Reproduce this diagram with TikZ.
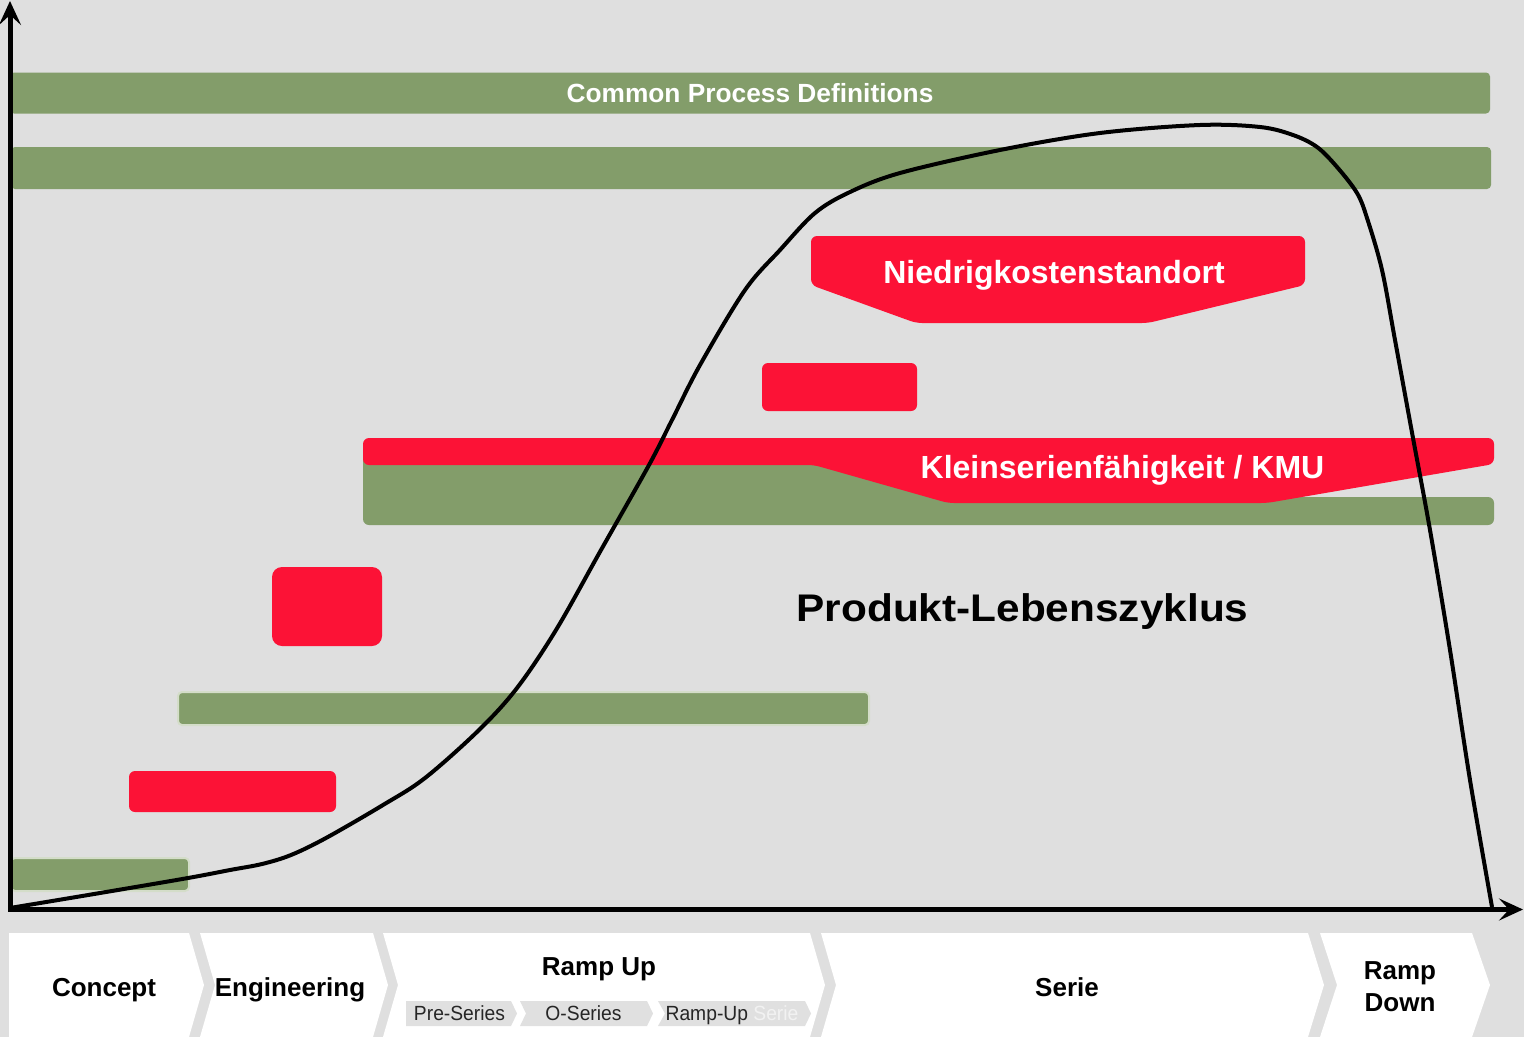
\documentclass[tikz,border=0pt]{standalone}
\usepackage{fontspec}
\setmainfont{Liberation Sans}
\usetikzlibrary{arrows.meta}

\definecolor{bgGray}{RGB}{223,223,223}
\definecolor{barGreen}{RGB}{131,157,106}
\definecolor{haloGreen}{RGB}{212,221,201}
\definecolor{barRed}{RGB}{252,18,54}
\definecolor{subGray}{RGB}{224,224,224}
\definecolor{faintGray}{RGB}{242,242,242}

\tikzset{
  greenbar/.style={fill=barGreen, rounded corners=4pt, inner sep=0pt},
  halobar/.style={greenbar, draw=haloGreen, line width=2pt},
  redbar/.style={fill=barRed, rounded corners=6pt, inner sep=0pt},
  whitelabel/.style={text=white, font=\bfseries\fontsize{32}{38}\selectfont, anchor=base},
  phase/.style={font=\bfseries\fontsize{26}{32}\selectfont, anchor=base, align=center},
  subphase/.style={font=\fontsize{20.5}{24}\selectfont, anchor=base, text=black!85},
  chevron/.style={fill=white},
  subchevron/.style={fill=subGray},
}

\begin{document}
\begin{tikzpicture}[x=1pt, y=-1pt]
    \useasboundingbox (0,0) rectangle (1524,1037);
    \fill[bgGray] (0,0) rectangle (1524,1037);
    %% Draw the phases
    \fill[chevron] (9,933) -- (189,933) -- (204,985) -- (189,1037) -- (9,1037) -- cycle;
    \fill[chevron] (200,933) -- (373,933) -- (388,985) -- (373,1037) -- (200,1037) -- (215,985) -- cycle;
    \fill[chevron] (383,933) -- (810,933) -- (825,985) -- (810,1037) -- (383,1037) -- (398,985) -- cycle;
    \fill[chevron] (821,933) -- (1308,933) -- (1324,985) -- (1308,1037) -- (821,1037) -- (836,985) -- cycle;
    \fill[chevron] (1320,933) -- (1472,933) -- (1490,985) -- (1472,1037) -- (1320,1037) -- (1337,985) -- cycle;
    \fill[subchevron] (406,1001) -- (511,1001) -- (517,1013.5) -- (511,1026) -- (406,1026) -- cycle;
    \fill[subchevron] (520,1001) -- (647,1001) -- (653,1013.5) -- (647,1026) -- (520,1026) -- (526,1013.5) -- cycle;
    \fill[subchevron] (658,1001) -- (805,1001) -- (811,1013.5) -- (805,1026) -- (658,1026) -- (665,1013.5) -- cycle;
    \node[phase] (concept) at (104,996) {Concept};
    \node[phase] (engineering) at (290,996) {Engineering};
    \node[phase] (rampup) at (599,975) {Ramp Up};
    \node[phase] (serie) at (1067,996) {Serie};
    \node[phase, anchor=center] (rampdown) at (1400,987) {Ramp\\Down};
    \node[subphase] (preseries) at (459.5,1020.5) {\scalebox{0.94}[1]{Pre-Series}};
    \node[subphase] (oseries) at (583.5,1020.5) {\scalebox{0.94}[1]{O-Series}};
    \node[subphase] (rampupserie) at (732,1020.5) {\scalebox{0.94}[1]{Ramp-Up \textcolor{faintGray}{Serie}}};
    %% Draw the bars
    \node[greenbar, minimum width=1480pt, minimum height=41pt, text=white,
      font=\bfseries\fontsize{26.3}{31}\selectfont] (cpd) at (750,93)
      {Common Process Definitions};
    \node[greenbar, minimum width=1480pt, minimum height=42pt] (topbar) at (751,168) {};
    \node[redbar, minimum width=155pt, minimum height=48pt] (midred) at (839.5,387) {};
    \node[redbar, rounded corners=10pt, minimum width=110pt, minimum height=79pt] (redsquare) at (327,606.5) {};
    \node[halobar, minimum width=691pt, minimum height=33pt] (midgreen) at (523.5,708.5) {};
    \node[redbar, minimum width=207pt, minimum height=41pt] (lowred) at (232.5,791.5) {};
    \node[halobar, minimum width=178pt, minimum height=33pt] (lowgreen) at (100,874.5) {};
    %% Draw the shapes
    \fill[barGreen, rounded corners=6pt] (600,450) -- (814,450) -- (960,497) -- (1494,497)
      -- (1494,525) -- (363,525) -- (363,450) -- cycle;
    \fill[barRed, rounded corners=6pt] (900,438) -- (1494,438) -- (1494,464) -- (1267,503)
      -- (948,503) -- (814,465) -- (363,465) -- (363,438) -- cycle;
    \fill[barRed, rounded corners=6pt] (1000,236) -- (1305,236) -- (1305,285) -- (1148,323)
      -- (916,323) -- (811,285) -- (811,236) -- cycle;
    \node[whitelabel] (niedrig) at (1054,283) {Niedrigkostenstandort};
    \node[whitelabel] (kmu) at (1122.5,478) {Kleinserienfähigkeit / KMU};
    \node[font=\bfseries\fontsize{38.5}{44}\selectfont, anchor=base] (plc) at (1022.5,621)
      {\scalebox{1.1}[1]{Produkt-Lebenszyklus}};
    %% Draw the curve
    \draw[line width=4pt, line join=round] plot[smooth, tension=0.55] coordinates {
      (10,908) (100,893) (188,878) (230,870) (262,864) (291,855) (326,838) (383,805)
      (425,778) (479,730) (517,688) (556,630) (601,550) (649,465) (672,420) (700,365)
      (745,290) (780,250) (815,213) (850,192) (900,173) (1000,150) (1100,133) (1200,125)
      (1260,127) (1293,135) (1317,147) (1337,167) (1357,193) (1367,218) (1382,270)
      (1395,340) (1413,438) (1430,530) (1450,650) (1470,780) (1492,907)};
    %% Draw the axes
    \coordinate (origin) at (10,909.5);
    \coordinate (ytip) at (10,1);
    \coordinate (xtip) at (1523,909.5);
    \begin{scope}[every path/.style={line width=5pt, line cap=rect,
        -{Stealth[length=24pt,width=22pt,inset=10pt]}}]
      \draw (origin) -- (ytip);
      \draw (origin) -- (xtip);
    \end{scope}
\end{tikzpicture}
\end{document}
